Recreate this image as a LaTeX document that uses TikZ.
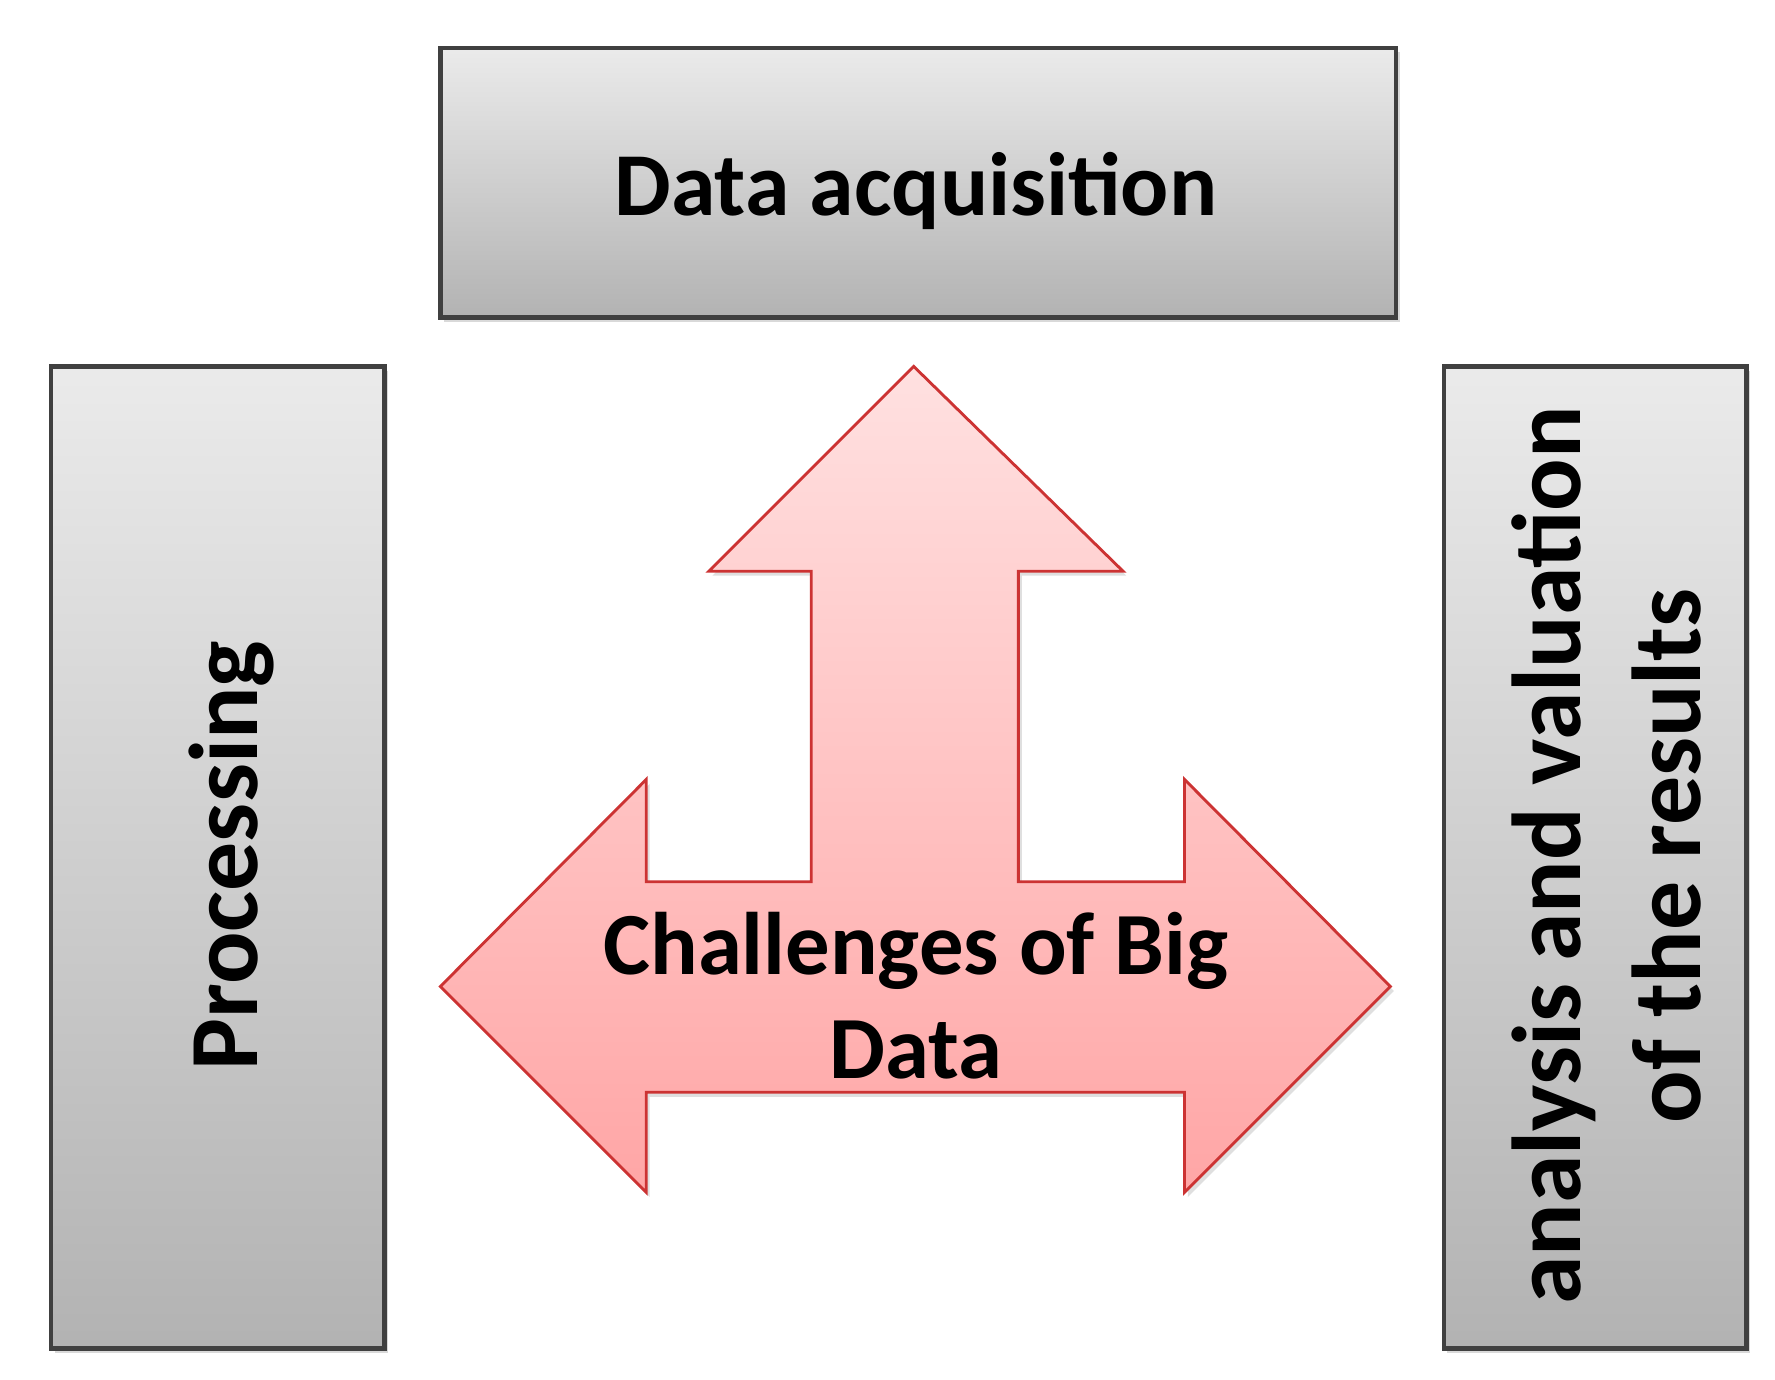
\documentclass[tikz,border=0pt]{standalone}
\usepackage{fontspec}
\setmainfont{Carlito}
\usetikzlibrary{shadows}
\begin{document}
\begin{tikzpicture}[x=1pt,y=-1pt,
  box/.style={draw=black!75,line width=4pt,top color=black!8,bottom color=black!30,drop shadow={shadow xshift=3pt,shadow yshift=-4pt,opacity=0.3}},
  lbl/.style={align=center,text=black}]
\useasboundingbox (0,0) rectangle (1560,1212);
\node[box,minimum width=840pt,minimum height=237pt,anchor=north west] (acq) at (385,40) {};
\node[lbl,font=\bfseries\fontsize{79}{84}\selectfont] (acqt) at (805,168) {Data acquisition};
\node[box,minimum width=293pt,minimum height=863pt,anchor=north west] (proc) at (43,320) {};
\node[lbl,rotate=90,font=\bfseries\fontsize{86}{90}\selectfont] (proct) at (203,752) {Processing};
\node[box,minimum width=266pt,minimum height=863pt,anchor=north west] (ana) at (1267,320) {};
\node[lbl,rotate=90,font=\bfseries\fontsize{86}{106}\selectfont] (anat) at (1412,752) {analysis and valuation\\of the results};
\draw[draw=red!75!black!80,line width=2.5pt,top color=red!12,bottom color=red!35,
  drop shadow={shadow xshift=3pt,shadow yshift=-4pt,opacity=0.25}]
  (803,322) -- (987,502) -- (895,502) -- (895,775) -- (1041,775) -- (1041,685)
  -- (1222,867) -- (1041,1048) -- (1041,960) -- (568,960) -- (568,1048)
  -- (387,867) -- (568,685) -- (568,775) -- (713,775) -- (713,502) -- (623,502) -- cycle;
\node[lbl,font=\bfseries\fontsize{78}{92}\selectfont] (ch) at (805,875) {Challenges of Big\\Data};
\end{tikzpicture}
\end{document}
